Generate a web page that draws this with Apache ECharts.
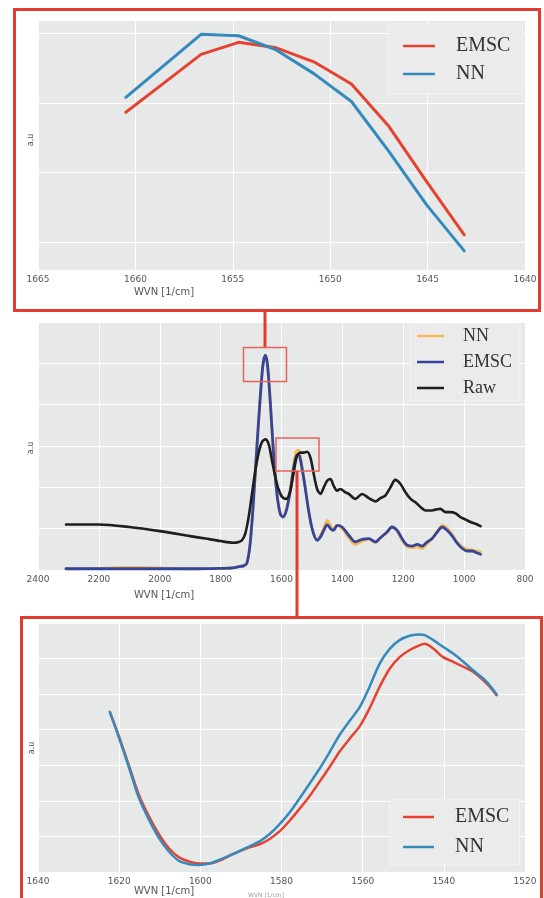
<!DOCTYPE html>
<html>
<head>
<meta charset="utf-8">
<script src="https://cdn.jsdelivr.net/npm/echarts@6/dist/echarts.min.js"></script>
<style>
  html, body { margin: 0; padding: 0; background: #fff; }
  #chart { width: 544px; height: 898px; }
</style>
</head>
<body>
<div id="chart"></div>
<script>
// top zoom: amide I peak
var wvnTop = [1660.49, 1658.56, 1656.63, 1654.70, 1652.77, 1650.84, 1648.91, 1646.98, 1645.05, 1643.12];
var emscTop = [1.865, 2.28, 2.697, 2.869, 2.79, 2.59, 2.27, 1.66, 0.87, 0.105];
var nnTop = [2.08, 2.53, 2.984, 2.964, 2.76, 2.42, 2.02, 1.30, 0.535, -0.125];

// full spectrum
var wvnRaw = [2308, 2200, 2100, 2000, 1900, 1850, 1800, 1760, 1740, 1730,
  1719, 1708, 1697, 1686, 1675, 1664, 1653, 1642, 1631, 1620,
  1610, 1598, 1584, 1571, 1560, 1549, 1538, 1527, 1516, 1505,
  1494, 1483, 1472, 1461, 1450, 1439, 1429, 1417, 1407, 1390,
  1379, 1357, 1335, 1313, 1291, 1275, 1259, 1242, 1226, 1209,
  1193, 1176, 1160, 1143, 1127, 1111, 1094, 1078, 1061, 1045,
  1028, 1012, 995, 979, 962, 946];
var rawMid = [0.110, 0.110, 0.104, 0.094, 0.082, 0.076, 0.070, 0.066, 0.068, 0.072,
  0.088, 0.128, 0.184, 0.240, 0.284, 0.310, 0.316, 0.304, 0.264, 0.224,
  0.196, 0.177, 0.172, 0.192, 0.236, 0.276, 0.284, 0.284, 0.286, 0.272,
  0.232, 0.196, 0.184, 0.200, 0.216, 0.220, 0.204, 0.192, 0.196, 0.188,
  0.184, 0.172, 0.184, 0.174, 0.166, 0.174, 0.180, 0.200, 0.218, 0.208,
  0.188, 0.172, 0.164, 0.152, 0.144, 0.144, 0.146, 0.148, 0.140, 0.140,
  0.137, 0.128, 0.122, 0.116, 0.112, 0.106];

var wvnMid = [2308, 2200, 2100, 2000, 1900, 1800, 1760, 1740, 1725, 1714,
  1703, 1692, 1681, 1670, 1661, 1653, 1646, 1637, 1626, 1615,
  1604, 1595, 1584, 1571, 1560, 1551, 1544, 1535, 1524, 1511,
  1498, 1483, 1472, 1461, 1450, 1439, 1429, 1417, 1401, 1379,
  1357, 1335, 1313, 1291, 1275, 1253, 1237, 1220, 1204, 1187,
  1171, 1154, 1138, 1121, 1105, 1088, 1072, 1056, 1039, 1023,
  1006, 990, 973, 957, 946];
var emscMid = [0.003, 0.003, 0.003, 0.003, 0.003, 0.004, 0.005, 0.008, 0.010, 0.016,
  0.064, 0.168, 0.296, 0.416, 0.496, 0.520, 0.496, 0.408, 0.280, 0.184,
  0.136, 0.128, 0.144, 0.192, 0.248, 0.276, 0.280, 0.256, 0.208, 0.144,
  0.096, 0.072, 0.080, 0.096, 0.110, 0.100, 0.096, 0.108, 0.104, 0.084,
  0.068, 0.074, 0.076, 0.068, 0.078, 0.092, 0.104, 0.096, 0.076, 0.060,
  0.058, 0.062, 0.058, 0.068, 0.076, 0.092, 0.104, 0.096, 0.082, 0.065,
  0.052, 0.046, 0.046, 0.041, 0.038];
var nnMid = [0.003, 0.004, 0.006, 0.005, 0.003, 0.004, 0.005, 0.008, 0.010, 0.016,
  0.064, 0.168, 0.296, 0.416, 0.496, 0.520, 0.496, 0.408, 0.280, 0.184,
  0.136, 0.130, 0.146, 0.196, 0.256, 0.288, 0.290, 0.262, 0.210, 0.144,
  0.096, 0.074, 0.084, 0.102, 0.120, 0.108, 0.098, 0.108, 0.100, 0.078,
  0.062, 0.070, 0.074, 0.066, 0.078, 0.092, 0.104, 0.094, 0.072, 0.056,
  0.054, 0.056, 0.052, 0.064, 0.076, 0.094, 0.108, 0.102, 0.086, 0.068,
  0.056, 0.050, 0.048, 0.046, 0.044];

// bottom zoom: amide II peak
var wvnBot = [1622.3, 1620.0, 1617.5, 1615.1, 1612.6, 1610.1, 1607.7, 1605.2, 1602.7, 1600.2,
  1597.8, 1595.3, 1592.0, 1588.7, 1585.4, 1583.0, 1580.5, 1578.0, 1575.6, 1573.1,
  1570.6, 1568.1, 1565.7, 1563.2, 1560.7, 1558.3, 1555.8, 1553.3, 1550.9, 1548.4,
  1545.9, 1544.7, 1542.6, 1540.2, 1537.7, 1535.2, 1532.8, 1530.3, 1528.7, 1527.0];
var emscBot = [4.50, 3.80, 2.96, 2.16, 1.55, 1.04, 0.66, 0.41, 0.29, 0.24,
  0.24, 0.32, 0.50, 0.66, 0.78, 0.92, 1.14, 1.44, 1.77, 2.13,
  2.54, 2.96, 3.38, 3.75, 4.10, 4.60, 5.21, 5.72, 6.04, 6.24,
  6.38, 6.42, 6.28, 6.04, 5.91, 5.77, 5.63, 5.39, 5.21, 4.97];
var nnBot = [4.50, 3.76, 2.91, 2.07, 1.46, 0.94, 0.57, 0.31, 0.22, 0.20,
  0.24, 0.34, 0.50, 0.68, 0.86, 1.06, 1.34, 1.67, 2.06, 2.48,
  2.91, 3.38, 3.85, 4.25, 4.64, 5.21, 5.86, 6.28, 6.52, 6.64,
  6.68, 6.66, 6.52, 6.33, 6.14, 5.91, 5.67, 5.44, 5.25, 4.99];

var RED = '#e5432f', BLUE = '#348abd';
var ORANGE = '#f7b955', DBLUE = '#33449a', BLACK = '#1e1e1e';
var BOX = '#e23b30';

function pairs(xs, ys) {
  return xs.map(function (x, i) { return [x, ys[i]]; });
}

function xAx(idx, min, max, step) {
  return {
    type: 'value', gridIndex: idx, inverse: true, min: min, max: max, interval: step,
    axisLine: { show: false }, axisTick: { show: false },
    axisLabel: { fontSize: 9, color: '#555', margin: 5, fontFamily: 'DejaVu Sans',
      formatter: function (v) { return String(v); } },
    splitLine: { lineStyle: { color: '#ffffff', width: 1 } }
  };
}

function yAx(idx, opts) {
  var a = {
    type: 'value', gridIndex: idx,
    axisLine: { show: false }, axisTick: { show: false }, axisLabel: { show: false },
    splitLine: { lineStyle: { color: '#ffffff', width: 1 } }
  };
  for (var k in opts) a[k] = opts[k];
  return a;
}

function line(name, idx, data, color, width, smooth, z) {
  return {
    name: name, type: 'line', xAxisIndex: idx, yAxisIndex: idx,
    data: data, showSymbol: false, smooth: smooth, z: z,
    lineStyle: { color: color, width: width, join: 'round', cap: 'round' },
    itemStyle: { color: color }
  };
}

function legendBox(left, top, pad, gap, iw, fs, textPad, items) {
  return {
    left: left, top: top, orient: 'vertical', padding: pad, itemGap: gap,
    itemWidth: iw, itemHeight: 2.5, icon: 'rect',
    backgroundColor: '#ebebeb', borderColor: '#f6f6f6', borderWidth: 1,
    textStyle: { fontFamily: 'Liberation Serif', fontSize: fs, color: '#333', padding: [0, 0, 0, textPad] },
    data: items.map(function (it) { return { name: it[0], itemStyle: { color: it[1] } }; })
  };
}

function txt(x, y, s, size, rot, color) {
  return {
    type: 'text', x: x, y: y, rotation: rot || 0, z: 10,
    style: { text: s, fontSize: size, fill: color || '#555', fontFamily: 'DejaVu Sans',
      align: 'center', verticalAlign: 'middle' }
  };
}

var chart = echarts.init(document.getElementById('chart'));

chart.setOption({
  animation: false,
  backgroundColor: '#ffffff',
  grid: [
    { left: 38, right: 19, top: 20, height: 250, show: true, backgroundColor: '#e7e8e8', borderWidth: 0 },
    { left: 38, right: 19, top: 322, height: 248, show: true, backgroundColor: '#e7e8e8', borderWidth: 0 },
    { left: 38, right: 19, top: 623, height: 249, show: true, backgroundColor: '#e7e8e8', borderWidth: 0 }
  ],
  xAxis: [
    xAx(0, 1640, 1665, 5),
    xAx(1, 800, 2400, 200),
    xAx(2, 1520, 1640, 20)
  ],
  yAxis: [
    yAx(0, { min: -0.4, max: 3.19, splitNumber: 4 }),
    yAx(1, { min: 0, max: 0.6, interval: 0.1 }),
    yAx(2, { min: 0, max: 7, interval: 1 })
  ],
  legend: [
    legendBox(388, 24, [12, 12, 10, 15], 8, 32, 20, 16, [['EMSC', RED], ['NN', BLUE]]),
    legendBox(410, 323, [4, 8, 4, 7], 8, 27, 18, 14, [['NN', ORANGE], ['EMSC', DBLUE], ['Raw', BLACK]]),
    legendBox(390, 800, [7, 10, 8, 13], 10, 31, 20, 16, [['EMSC', RED], ['NN', BLUE]])
  ],
  series: [
    line('EMSC', 0, pairs(wvnTop, emscTop), RED, 3, false, 2),
    line('NN', 0, pairs(wvnTop, nnTop), BLUE, 3, false, 3),
    line('NN', 1, pairs(wvnMid, nnMid), ORANGE, 2.8, 0.3, 2),
    line('EMSC', 1, pairs(wvnMid, emscMid), DBLUE, 2.8, 0.3, 3),
    line('Raw', 1, pairs(wvnRaw, rawMid), BLACK, 2.6, 0.3, 4),
    line('EMSC', 2, pairs(wvnBot, emscBot), RED, 2.5, 0.3, 2),
    line('NN', 2, pairs(wvnBot, nnBot), BLUE, 2.5, 0.3, 3)
  ],
  graphic: [
    // red call-out frames and connectors
    { type: 'rect', z: 20, shape: { x: 14.5, y: 9.5, width: 525, height: 301 },
      style: { fill: null, stroke: BOX, lineWidth: 3 } },
    { type: 'line', z: 20, shape: { x1: 265, y1: 311, x2: 265, y2: 347 },
      style: { stroke: BOX, lineWidth: 3 } },
    { type: 'rect', z: 20, shape: { x: 243.5, y: 347.5, width: 43, height: 34 },
      style: { fill: null, stroke: '#e4655b', lineWidth: 1.5 } },
    { type: 'rect', z: 20, shape: { x: 276, y: 438, width: 43, height: 33 },
      style: { fill: null, stroke: '#e4655b', lineWidth: 1.5 } },
    { type: 'line', z: 20, shape: { x1: 297, y1: 471, x2: 297, y2: 617 },
      style: { stroke: BOX, lineWidth: 3 } },
    { type: 'rect', z: 20, shape: { x: 21.5, y: 617.5, width: 520, height: 300 },
      style: { fill: null, stroke: BOX, lineWidth: 3 } },
    // axis titles
    txt(164, 292, 'WVN [1/cm]', 10),
    txt(164, 595, 'WVN [1/cm]', 10),
    txt(164, 891, 'WVN [1/cm]', 10),
    txt(266, 895, 'WVN [1/cm]', 6, 0, '#999'),
    txt(31, 140, 'a.u', 8, Math.PI / 2),
    txt(31, 448, 'a.u', 8, Math.PI / 2),
    txt(32, 748, 'a.u', 8, Math.PI / 2)
  ]
});
</script>
</body>
</html>
